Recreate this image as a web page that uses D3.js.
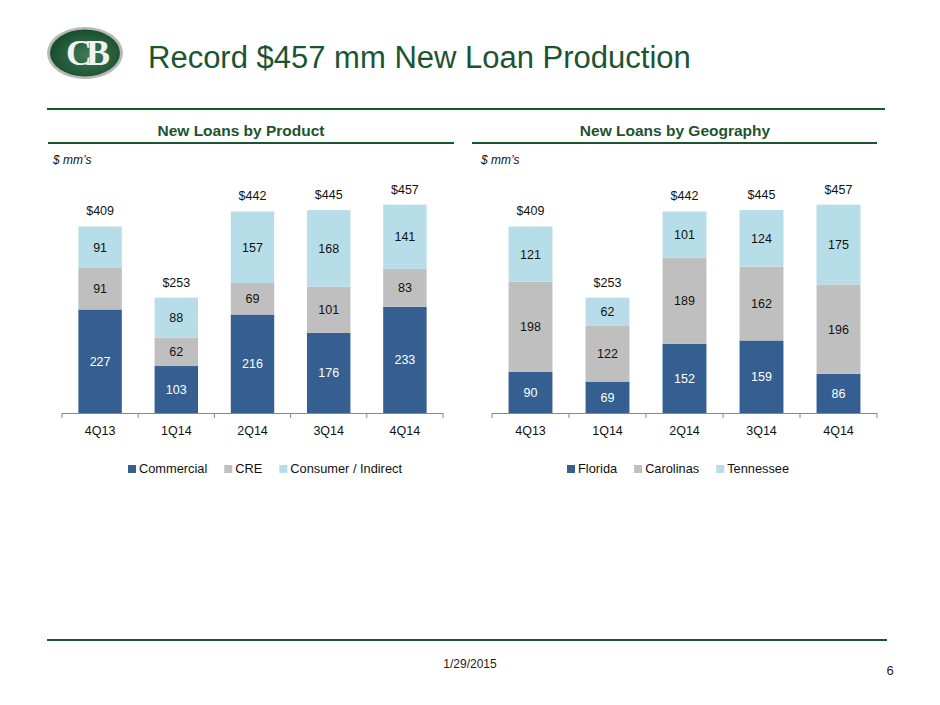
<!DOCTYPE html>
<html>
<head>
<meta charset="utf-8">
<script src="https://cdn.jsdelivr.net/npm/d3@7"></script>
<style>
  body { margin: 0; background: #fff; }
  svg { font-family: "Liberation Sans", Arial, sans-serif; }
</style>
</head>
<body>
<div id="chart"></div>
<script>
const quarters = ['4Q13', '1Q14', '2Q14', '3Q14', '4Q14'];

const productKeys = ['Commercial', 'CRE', 'Consumer / Indirect'];
const commercial = [227, 103, 216, 176, 233];
const cre = [91, 62, 69, 101, 83];
const consumer = [91, 88, 157, 168, 141];
const productTotals = ['$409', '$253', '$442', '$445', '$457'];

const geoKeys = ['Florida', 'Carolinas', 'Tennessee'];
const florida = [90, 69, 152, 159, 86];
const carolinas = [198, 122, 189, 162, 196];
const tennessee = [121, 62, 101, 124, 175];
const geoTotals = ['$409', '$253', '$442', '$445', '$457'];

const colors = ['#355f91', '#bfbfbf', '#b7dee8'];
const labelColors = ['#fff', '#111', '#111'];
const green = '#1c5430';

const W = 940, H = 705;
const svg = d3.select('#chart').append('svg')
    .attr('width', W)
    .attr('height', H);

// logo
const logo = svg.append('g').attr('transform', 'translate(85,53)');
const grad = svg.append('defs').append('radialGradient')
    .attr('id', 'lg').attr('cx', '55%').attr('cy', '55%').attr('r', '60%');
grad.append('stop').attr('offset', '0%').attr('stop-color', '#3f7a55');
grad.append('stop').attr('offset', '100%').attr('stop-color', '#154a2a');
logo.append('ellipse').attr('rx', 38).attr('ry', 26).attr('fill', '#b8b8b8');
logo.append('ellipse').attr('rx', 35).attr('ry', 23.5).attr('fill', 'url(#lg)');
logo.append('text')
    .attr('x', 0).attr('y', 12)
    .attr('text-anchor', 'middle')
    .attr('font-family', '"Liberation Serif", "DejaVu Serif", serif')
    .attr('font-weight', 'bold')
    .attr('font-size', 36)
    .attr('letter-spacing', -6)
    .attr('fill', '#f2f2f2')
    .text('CB');

svg.append('text')
    .attr('x', 148).attr('y', 68)
    .attr('font-size', 31)
    .attr('fill', green)
    .text('Record $457 mm New Loan Production');

// header rules
const rules = [
  [47, 885, 109], [48, 454, 143], [472, 877, 143], [47, 887, 640]
];
svg.append('g').selectAll('line')
  .data(rules)
  .enter().append('line')
    .attr('x1', d => d[0]).attr('x2', d => d[1])
    .attr('y1', d => d[2]).attr('y2', d => d[2])
    .attr('stroke', green)
    .attr('stroke-width', 2);

svg.append('text')
    .attr('x', 470).attr('y', 668)
    .attr('text-anchor', 'middle')
    .attr('font-size', 12)
    .attr('fill', '#222')
    .text('1/29/2015');
svg.append('text')
    .attr('x', 890).attr('y', 675)
    .attr('text-anchor', 'middle')
    .attr('font-size', 13)
    .attr('fill', '#222')
    .text('6');

const drawChart = ({title, titleX, unitX, x0, x1, series, keys, totals, legendX}) => {
    svg.append('text')
        .attr('x', titleX).attr('y', 136)
        .attr('text-anchor', 'middle')
        .attr('font-size', 15.5)
        .attr('font-weight', 'bold')
        .attr('fill', green)
        .text(title);

    svg.append('text')
        .attr('x', unitX).attr('y', 164)
        .attr('font-size', 12)
        .attr('font-style', 'italic')
        .attr('fill', '#111')
        .text("$ mm\u2019s");

    const baseY = 413;
    const x = d3.scaleBand().domain(quarters).range([x0, x1]).paddingInner(0.43).paddingOuter(0.215);
    const y = d3.scaleLinear().domain([0, 460]).range([baseY, baseY - 460 * 0.456]);

    const rows = quarters.map((q, i) => {
        const r = {q};
        keys.forEach((k, j) => { r[k] = series[j][i]; });
        return r;
    });
    const stacked = d3.stack().keys(keys)(rows);

    const g = svg.append('g');
    stacked.forEach((layer, j) => {
        g.append('g')
          .selectAll('rect')
          .data(layer)
          .enter().append('rect')
            .attr('x', d => x(d.data.q))
            .attr('y', d => y(d[1]))
            .attr('width', x.bandwidth())
            .attr('height', d => y(d[0]) - y(d[1]))
            .attr('fill', colors[j]);

        g.append('g')
          .selectAll('text')
          .data(layer)
          .enter().append('text')
            .attr('x', d => x(d.data.q) + x.bandwidth() / 2)
            .attr('y', d => (y(d[0]) + y(d[1])) / 2 + 4.5)
            .attr('text-anchor', 'middle')
            .attr('font-size', 12.5)
            .attr('fill', labelColors[j])
            .text(d => d[1] - d[0]);
    });

    const top = stacked[stacked.length - 1];
    g.append('g')
      .selectAll('text')
      .data(top)
      .enter().append('text')
        .attr('x', d => x(d.data.q) + x.bandwidth() / 2)
        .attr('y', d => y(d[1]) - 11)
        .attr('text-anchor', 'middle')
        .attr('font-size', 12.5)
        .attr('fill', '#111')
        .text((d, i) => totals[i]);

    // axis
    const step = x.step();
    const ticks = d3.range(quarters.length + 1).map(i => x0 + i * step);
    const ax = svg.append('g');
    ax.append('line')
        .attr('x1', x0).attr('x2', x1)
        .attr('y1', baseY + 0.5).attr('y2', baseY + 0.5)
        .attr('stroke', '#888');
    ax.selectAll('.tk')
      .data(ticks)
      .enter().append('line')
        .attr('x1', d => d).attr('x2', d => d)
        .attr('y1', baseY).attr('y2', baseY + 5)
        .attr('stroke', '#888');
    ax.selectAll('text')
      .data(quarters)
      .enter().append('text')
        .attr('x', d => x(d) + x.bandwidth() / 2)
        .attr('y', 435)
        .attr('text-anchor', 'middle')
        .attr('font-size', 12.5)
        .attr('fill', '#111')
        .text(d => d);

    // legend
    const lg = svg.append('g').attr('transform', `translate(${legendX},473)`);
    let off = 0;
    keys.forEach((k, j) => {
        lg.append('rect')
            .attr('x', off).attr('y', -8)
            .attr('width', 8).attr('height', 8)
            .attr('fill', colors[j]);
        const t = lg.append('text')
            .attr('x', off + 11).attr('y', 0)
            .attr('font-size', 12.8)
            .attr('fill', '#111')
            .text(k);
        off += 11 + t.node().getComputedTextLength() + 17;
    });
};

drawChart({
    title: 'New Loans by Product', titleX: 241, unitX: 53,
    x0: 62, x1: 443,
    series: [commercial, cre, consumer], keys: productKeys, totals: productTotals,
    legendX: 128
});

drawChart({
    title: 'New Loans by Geography', titleX: 675, unitX: 481,
    x0: 492, x1: 877,
    series: [florida, carolinas, tennessee], keys: geoKeys, totals: geoTotals,
    legendX: 567
});
</script>
</body>
</html>
